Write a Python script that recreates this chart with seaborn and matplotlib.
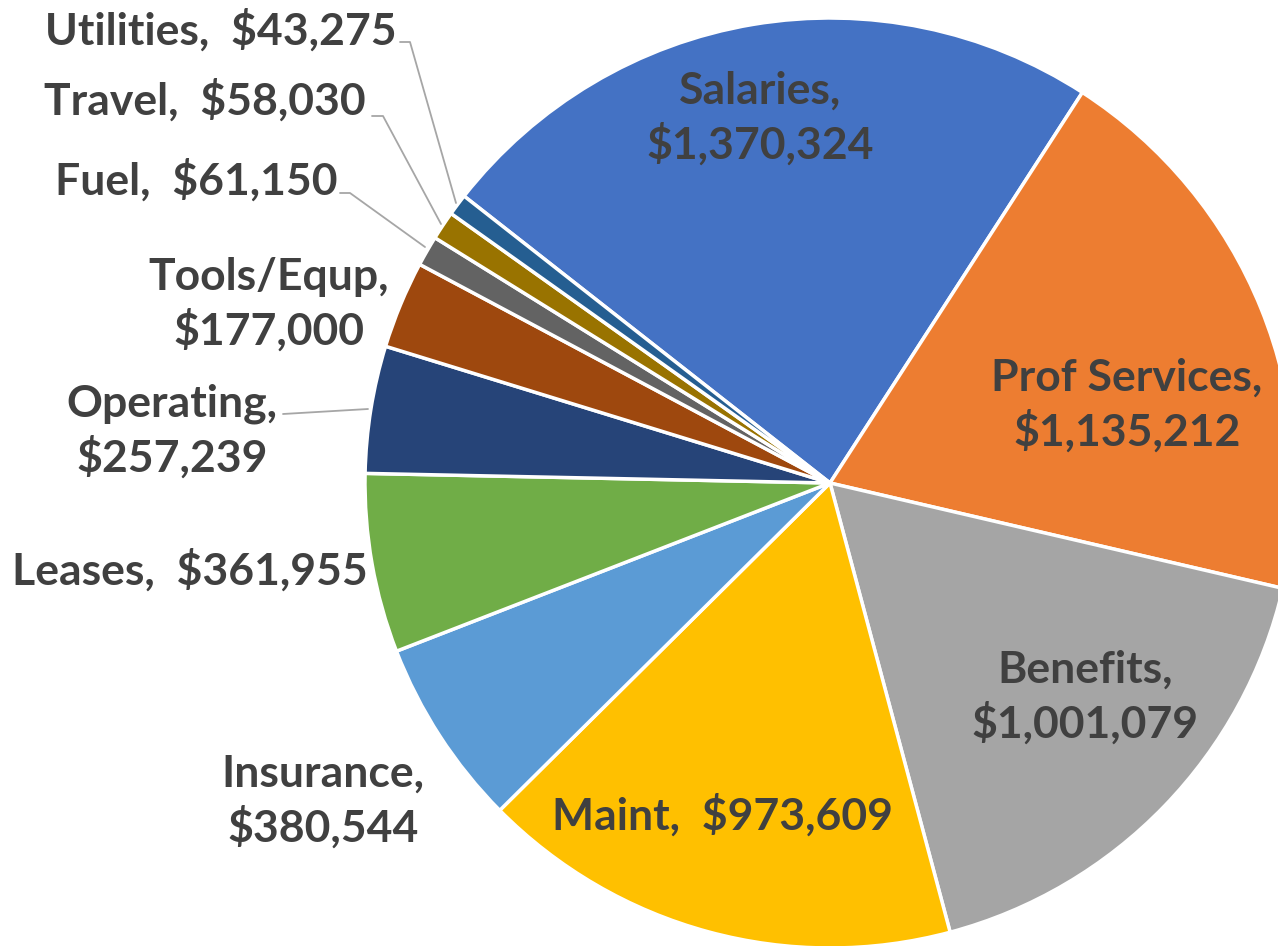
import seaborn as sns
import matplotlib.pyplot as plt

categories = ["Salaries", "Prof Services", "Benefits", "Maint", "Insurance", "Leases",
              "Operating", "Tools/Equp", "Fuel", "Travel", "Utilities"]
values = [1370324, 1135212, 1001079, 973609, 380544, 361955, 257239, 177000, 61150, 58030, 43275]
colors = ["#4472C4", "#ED7D31", "#A5A5A5", "#FFC000", "#5B9BD5", "#70AD47",
          "#264478", "#9E480E", "#636363", "#997300", "#255E91"]
# whether the label breaks after the comma
two_line = [True, True, True, False, True, False, True, True, False, False, False]

# label placement in pixel coords (x, y from top)
label_pos = [(760, 118), (1127, 405), (1085, 697), (722, 815), (323, 801), (190, 570),
             (172, 431), (269, 304), (196, 180), (205, 100), (221, 30)]
# leader lines (pixel coords, y from top)
leaders = {
    "Utilities": [(400, 42), (410, 42), (456, 203)],
    "Travel": [(372, 116), (383, 116), (441, 224)],
    "Fuel": [(340, 193), (350, 193), (425, 247)],
    "Operating": [(283, 414), (368, 409)],
}

W, H = 1278, 946
sns.set_style("white")
plt.rcParams['font.family'] = ['Lato', 'DejaVu Sans']

fig = plt.figure(figsize=(W / 100, H / 100), dpi=100)
ax = fig.add_axes([0, 0, 1, 1])

ax.pie(values, colors=colors, startangle=141.9, counterclock=False,
       center=(830, H - 483), radius=465,
       wedgeprops=dict(edgecolor="white", linewidth=2.5), frame=True)
ax.set_xlim(0, W)
ax.set_ylim(0, H)
ax.set_aspect("equal")
ax.axis("off")

for name, val, two, (x, y) in zip(categories, values, two_line, label_pos):
    sep = ",\n" if two else ",  "
    txt = f"{name}{sep}${val:,}"
    ax.text(x, H - y, txt, ha="center", va="center", fontsize=32, fontweight="bold",
            color="#404040", linespacing=1.32)

for name, pts in leaders.items():
    xs = [p[0] for p in pts]
    ys = [H - p[1] for p in pts]
    ax.plot(xs, ys, color="#A6A6A6", linewidth=1.3)

fig.savefig("out.png", dpi=100)
